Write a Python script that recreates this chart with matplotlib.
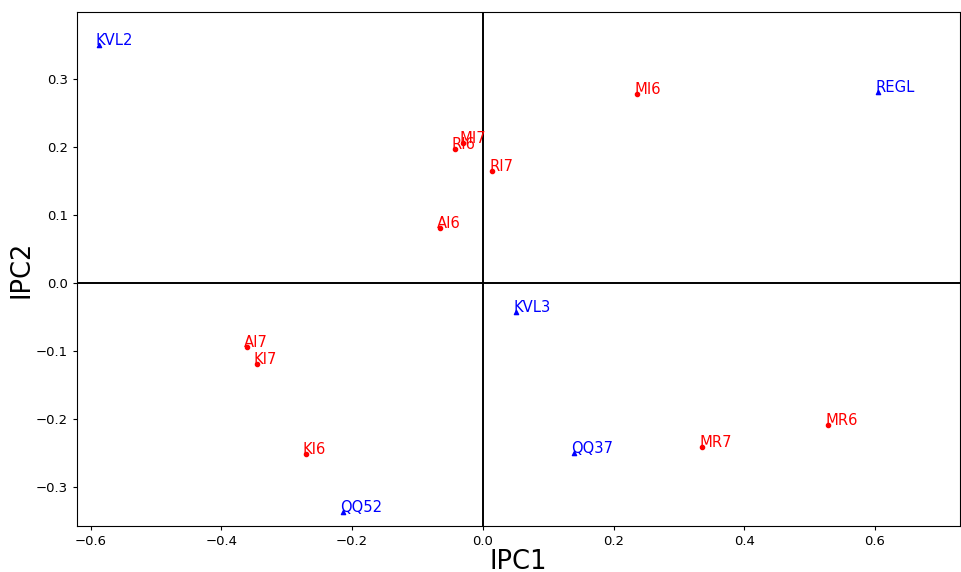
import matplotlib
matplotlib.use("Agg")
import matplotlib.pyplot as plt

# Red group (circles)
red_labels = ["MI6", "MI7", "RI6", "RI7", "AI6", "AI7", "KI7", "KI6", "MR7", "MR6"]
red_x = [0.236, -0.031, -0.043, 0.014, -0.066, -0.361, -0.346, -0.271, 0.335, 0.528]
red_y = [0.278, 0.206, 0.197, 0.165, 0.081, -0.094, -0.119, -0.251, -0.241, -0.209]

# Blue group (triangles)
blue_labels = ["KVL2", "REGL", "KVL3", "QQ37", "QQ52"]
blue_x = [-0.588, 0.605, 0.051, 0.139, -0.214]
blue_y = [0.350, 0.281, -0.043, -0.249, -0.337]

fig = plt.figure(figsize=(9.61, 5.72), dpi=100)
ax = fig.add_axes([0.0801, 0.0804, 0.9188, 0.8986])

ax.axhline(0, color="black", linewidth=1.4, zorder=1)
ax.axvline(0, color="black", linewidth=1.4, zorder=1)

ax.scatter(red_x, red_y, color="red", marker="o", s=9, zorder=3)
ax.scatter(blue_x, blue_y, color="blue", marker="^", s=9, zorder=3)

for lab, x, y in zip(red_labels, red_x, red_y):
    ax.annotate(lab, (x, y), xytext=(-2, 0), textcoords="offset points",
                color="red", fontsize=10.6)
for lab, x, y in zip(blue_labels, blue_x, blue_y):
    ax.annotate(lab, (x, y), xytext=(-2, 0), textcoords="offset points",
                color="blue", fontsize=10.6)

ax.set_xlim(-0.621, 0.730)
ax.set_ylim(-0.357, 0.3985)
ax.set_xticks([-0.6, -0.4, -0.2, 0.0, 0.2, 0.4, 0.6])
ax.set_yticks([-0.3, -0.2, -0.1, 0.0, 0.1, 0.2, 0.3])
ax.tick_params(labelsize=9.5, length=3)
ax.set_xlabel("IPC1", fontsize=18.5, labelpad=0.5)
ax.set_ylabel("IPC2", fontsize=18.5, labelpad=1)

fig.savefig("out.png", dpi=100)
